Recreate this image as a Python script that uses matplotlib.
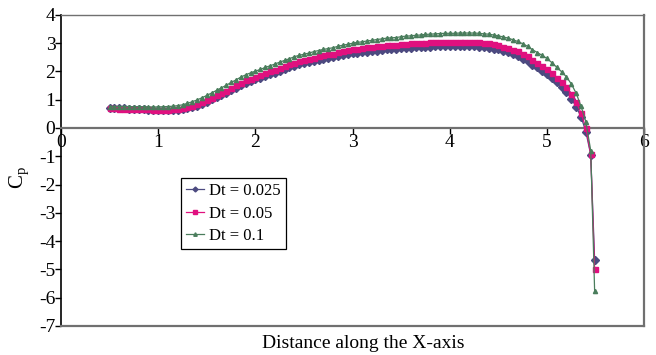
import matplotlib
matplotlib.use("Agg")
import matplotlib.pyplot as plt



### DATA ###
x_pos = [0.50, 0.55, 0.60, 0.65, 0.70, 0.75, 0.80, 0.85, 0.90, 0.95,
         1.00, 1.05, 1.10, 1.15, 1.20, 1.25, 1.30, 1.35, 1.40, 1.45,
         1.50, 1.55, 1.60, 1.65, 1.70, 1.75, 1.80, 1.85, 1.90, 1.95,
         2.00, 2.05, 2.10, 2.15, 2.20, 2.25, 2.30, 2.35, 2.40, 2.45,
         2.50, 2.55, 2.60, 2.65, 2.70, 2.75, 2.80, 2.85, 2.90, 2.95,
         3.00, 3.05, 3.10, 3.15, 3.20, 3.25, 3.30, 3.35, 3.40, 3.45,
         3.50, 3.55, 3.60, 3.65, 3.70, 3.75, 3.80, 3.85, 3.90, 3.95,
         4.00, 4.05, 4.10, 4.15, 4.20, 4.25, 4.30, 4.35, 4.40, 4.45,
         4.50, 4.55, 4.60, 4.65, 4.70, 4.75, 4.80, 4.85, 4.90, 4.95,
         5.00, 5.05, 5.10, 5.15, 5.20, 5.25, 5.30, 5.35, 5.40, 5.45,
         5.49]

cp_dt_0025 = [0.70, 0.70, 0.69, 0.69, 0.68, 0.67, 0.67, 0.66, 0.65, 0.64,
              0.64, 0.63, 0.63, 0.63, 0.64, 0.66, 0.70, 0.74, 0.79, 0.86,
              0.93, 1.01, 1.09, 1.17, 1.25, 1.34, 1.43, 1.52, 1.60, 1.66,
              1.72, 1.78, 1.84, 1.90, 1.96, 2.02, 2.08, 2.14, 2.20, 2.25,
              2.29, 2.33, 2.37, 2.41, 2.44, 2.47, 2.50, 2.54, 2.58, 2.61,
              2.64, 2.66, 2.68, 2.70, 2.72, 2.74, 2.76, 2.78, 2.79, 2.80,
              2.82, 2.83, 2.84, 2.85, 2.86, 2.87, 2.88, 2.89, 2.89, 2.90,
              2.90, 2.90, 2.90, 2.90, 2.89, 2.89, 2.88, 2.86, 2.84, 2.81,
              2.78, 2.73, 2.68, 2.61, 2.54, 2.45, 2.36, 2.24, 2.14, 2.03,
              1.92, 1.77, 1.61, 1.45, 1.27, 1.04, 0.75, 0.40, -0.13, -0.95,
              -4.66]

cp_dt_005 = [0.69, 0.69, 0.68, 0.68, 0.68, 0.67, 0.67, 0.66, 0.66, 0.65,
             0.65, 0.65, 0.65, 0.66, 0.67, 0.70, 0.74, 0.79, 0.84, 0.92,
             0.99, 1.07, 1.16, 1.24, 1.32, 1.42, 1.51, 1.60, 1.69, 1.75,
             1.81, 1.87, 1.94, 2.00, 2.06, 2.12, 2.18, 2.25, 2.31, 2.36,
             2.40, 2.45, 2.49, 2.53, 2.57, 2.60, 2.63, 2.68, 2.72, 2.75,
             2.78, 2.81, 2.83, 2.85, 2.87, 2.89, 2.91, 2.93, 2.94, 2.95,
             2.97, 2.98, 2.99, 3.00, 3.01, 3.02, 3.03, 3.04, 3.04, 3.05,
             3.05, 3.05, 3.05, 3.05, 3.04, 3.04, 3.03, 3.01, 2.99, 2.96,
             2.93, 2.88, 2.83, 2.77, 2.71, 2.62, 2.53, 2.41, 2.31, 2.20,
             2.09, 1.94, 1.78, 1.62, 1.44, 1.21, 0.92, 0.53, 0.00, -0.93,
             -4.98]

cp_dt_01 = [0.76, 0.76, 0.76, 0.76, 0.76, 0.75, 0.76, 0.75, 0.75, 0.74,
            0.75, 0.75, 0.76, 0.77, 0.79, 0.82, 0.87, 0.93, 0.99, 1.07,
            1.15, 1.24, 1.33, 1.42, 1.51, 1.61, 1.70, 1.80, 1.88, 1.95,
            2.01, 2.07, 2.14, 2.20, 2.26, 2.33, 2.39, 2.45, 2.52, 2.57,
            2.61, 2.65, 2.70, 2.74, 2.78, 2.81, 2.84, 2.89, 2.93, 2.96,
            3.00, 3.03, 3.05, 3.08, 3.10, 3.13, 3.15, 3.18, 3.19, 3.20,
            3.23, 3.25, 3.26, 3.28, 3.29, 3.31, 3.32, 3.33, 3.34, 3.35,
            3.35, 3.35, 3.36, 3.36, 3.36, 3.36, 3.35, 3.33, 3.32, 3.29,
            3.26, 3.22, 3.18, 3.12, 3.06, 2.98, 2.89, 2.77, 2.67, 2.57,
            2.46, 2.31, 2.15, 1.99, 1.81, 1.56, 1.23, 0.77, 0.22, -0.80,
            -5.76]

series_labels = ["Dt = 0.025", "Dt = 0.05", "Dt = 0.1"]
x_ticks = [0, 1, 2, 3, 4, 5, 6]
y_ticks = [-7, -6, -5, -4, -3, -2, -1, 0, 1, 2, 3, 4]



### FIGURE ###
plt.rcParams["font.family"] = ["Liberation Serif", "DejaVu Serif"]
plt.rcParams["axes.unicode_minus"] = False

fig = plt.figure(figsize=(6.56, 3.55), dpi=100)
ax = fig.add_axes([0.093, 0.082, 0.889, 0.876])


ax.plot(x_pos, cp_dt_0025, color="#4c4a80", marker="D", markersize=3.6,
        linewidth=0.9, label=series_labels[0], zorder=3)
ax.plot(x_pos, cp_dt_005, color="#e0107f", marker="s", markersize=3.6,
        linewidth=0.9, label=series_labels[1], zorder=4)
ax.plot(x_pos, cp_dt_01, color="#4a7d5c", marker="^", markersize=3.0,
        linewidth=0.9, label=series_labels[2], zorder=5)



### AXES ###
ax.set_xlim(0, 6)
ax.set_ylim(-7, 4)
ax.set_xticks(x_ticks)
ax.set_yticks(y_ticks)

ax.spines["bottom"].set_position(("data", 0))
ax.spines["bottom"].set_color("#707070")
ax.spines["bottom"].set_linewidth(1.6)
ax.spines["left"].set_color("black")
ax.spines["left"].set_linewidth(1.2)
ax.spines["top"].set_color("#707070")
ax.spines["top"].set_linewidth(1.0)
ax.spines["right"].set_color("#707070")
ax.spines["right"].set_linewidth(1.6)

# bottom border of the box at -7
ax.axhline(-7, color="#707070", linewidth=1.6, clip_on=False, zorder=6)

ax.tick_params(axis="x", direction="out", length=4, width=1, color="black",
               labelsize=14, pad=0)
ax.tick_params(axis="y", direction="out", length=4, width=1, color="black",
               labelsize=14, pad=0)



### LABELS ###
fig.text(0.553, 1 - 343 / 355, "Distance along the X-axis", ha="center",
         va="center", fontsize=14)
fig.text(0.030, 0.50, r"C$_\mathregular{p}$", rotation=90, ha="center",
         va="center", fontsize=15)



### LEGEND ###
leg = ax.legend(loc="upper left", bbox_to_anchor=(0.206, 0.476),
                borderaxespad=0, fontsize=12, handlelength=1.1,
                handletextpad=0.3, labelspacing=0.4, borderpad=0.3,
                fancybox=False, framealpha=1, edgecolor="black")
leg.get_frame().set_linewidth(0.9)
for h in leg.get_lines():
    h.set_markersize(2.5)


fig.savefig("out.png", dpi=100)
